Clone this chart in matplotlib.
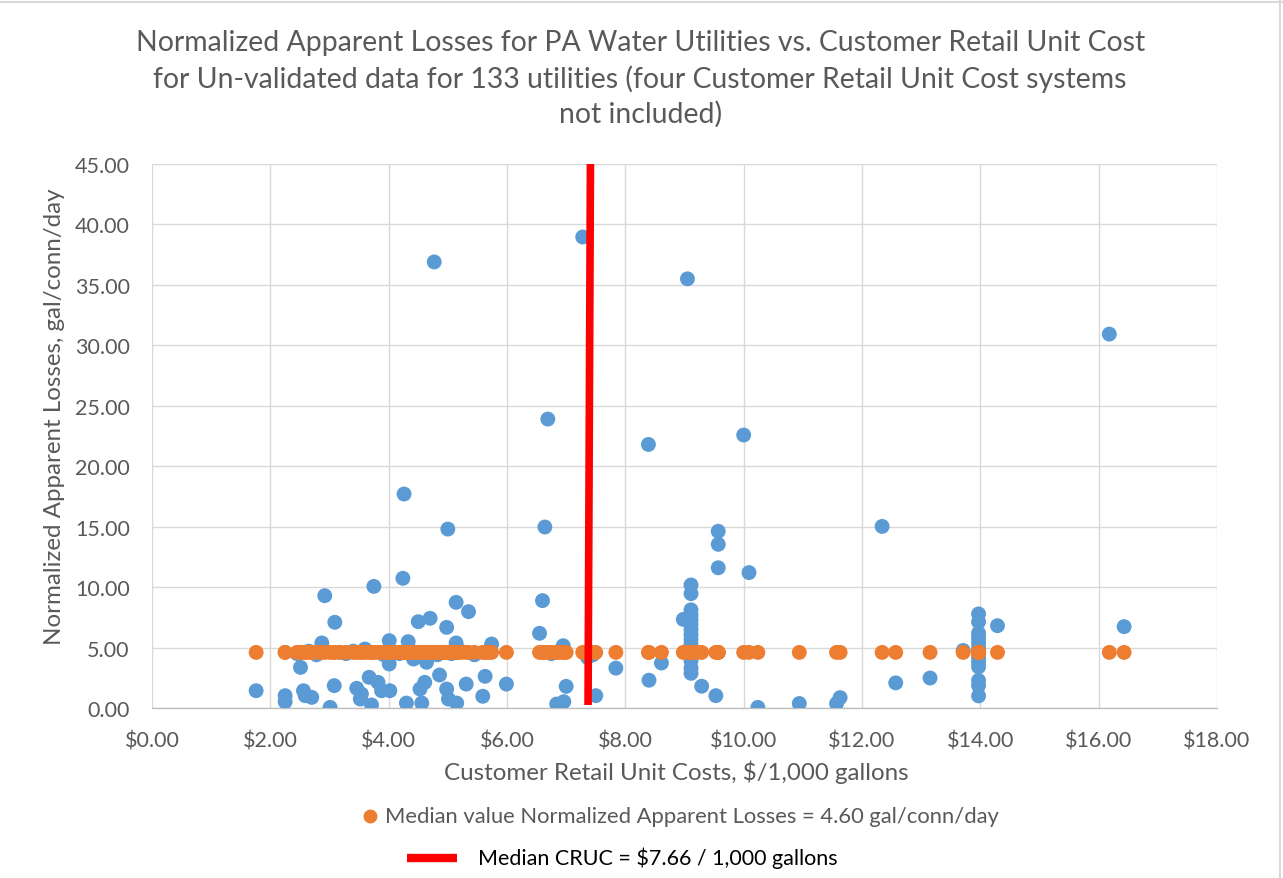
import matplotlib
matplotlib.use("Agg")
import matplotlib.pyplot as plt
from matplotlib.ticker import FuncFormatter, MultipleLocator
from matplotlib.lines import Line2D

plt.rcParams['font.family'] = ['Lato', 'DejaVu Sans']

# Customer retail unit cost ($/1,000 gal) and normalized apparent losses (gal/conn/day)
cruc = [1.76, 2.25, 2.25, 2.51, 2.56, 2.59, 2.70, 2.87, 2.92, 3.09,
        3.08, 3.01, 3.46, 3.54, 3.52, 3.60, 3.67, 3.71, 3.75, 3.82,
        3.88, 4.01, 4.01, 4.02, 4.24, 4.33, 4.30, 4.42, 4.50, 4.53,
        4.56, 4.64, 4.70, 4.61, 4.86, 4.98, 5.14, 5.35, 5.14, 4.98,
        5.01, 5.15, 5.31, 5.63, 5.59, 5.74, 5.99, 4.26, 5.00, 4.77,
        7.28, 6.69, 6.64, 6.60, 6.55, 6.95, 7.00, 6.96, 6.84, 7.36,
        7.50, 7.84, 8.40, 8.61, 8.98,
        9.11, 9.11, 9.11, 9.11, 9.11, 9.11, 9.11, 9.11, 9.11, 9.11,
        9.11, 9.11, 9.11, 9.11, 9.11,
        9.29, 9.53, 9.57, 9.57, 9.57, 10.09, 10.00, 9.05, 8.39, 10.24,
        10.94, 11.57, 11.63, 12.34, 12.57, 13.15, 13.71,
        13.97, 13.97, 13.97, 13.97, 13.97, 13.97, 13.97, 13.97, 13.97, 13.97,
        13.97, 13.97, 13.97,
        14.29, 16.18, 16.43,
        2.45, 2.65, 2.78, 3.18, 3.28, 3.40, 3.92, 4.10, 4.18, 4.38,
        4.82, 4.92, 5.06, 5.22, 5.45, 5.68, 6.75, 6.88, 7.45, 9.20]

losses = [1.43, 1.02, 0.52, 3.36, 1.43, 1.02, 0.88, 5.38, 9.29, 7.09,
          1.85, 0.05, 1.63, 1.16, 0.74, 4.88, 2.54, 0.25, 10.06, 2.12,
          1.43, 5.57, 3.64, 1.43, 10.73, 5.49, 0.41, 4.05, 7.14, 1.57,
          0.41, 3.78, 7.42, 2.12, 2.73, 6.67, 8.74, 7.97, 5.38, 1.57,
          0.74, 0.41, 1.98, 2.62, 0.97, 5.29, 1.98, 17.70, 14.80, 36.90,
          38.96, 23.90, 14.97, 8.88, 6.18, 5.15, 1.79, 0.52, 0.33, 4.19,
          1.02, 3.30, 2.30, 3.72, 7.33,
          10.18, 9.46, 8.12, 7.70, 7.30, 6.90, 6.50, 6.10, 5.70, 5.30,
          4.90, 4.30, 3.90, 3.30, 2.87,
          1.80, 1.02, 14.62, 13.54, 11.60, 11.20, 22.58, 35.50, 21.80, 0.05,
          0.37, 0.37, 0.86, 15.02, 2.08, 2.48, 4.76,
          7.78, 7.13, 6.20, 5.80, 5.40, 5.00, 4.60, 4.20, 3.80, 3.40,
          2.28, 1.85, 1.00,
          6.81, 30.93, 6.73,
          4.50, 4.70, 4.40, 4.60, 4.50, 4.70, 4.40, 4.60, 4.50, 4.70,
          4.40, 4.60, 4.50, 4.70, 4.40, 4.60, 4.50, 4.70, 4.40, 4.60]

median_losses = 4.60
median_cruc_label = 7.66
# hand-drawn red line as placed in the original chart
cruc_line_x = [7.37, 7.41]
cruc_line_y = [0.25, 45.0]

blue = '#5B9BD5'
orange = '#ED7D31'
grey = '#595959'

fig = plt.figure(figsize=(12.83, 8.79), dpi=100)
ax = fig.add_axes([152 / 1283, 1 - 709 / 879, (1217 - 152) / 1283, (709 - 165) / 879])

ax.scatter(cruc, losses, s=115, color=blue, edgecolors='none', zorder=3)
ax.scatter(cruc, [median_losses] * len(cruc), s=115, color=orange, edgecolors='none', zorder=4)
ax.plot(cruc_line_x, cruc_line_y, color='#FF0000', lw=5.5, solid_capstyle='butt', zorder=5)

ax.set_xlim(0, 18)
ax.set_ylim(0, 45)
ax.xaxis.set_major_locator(MultipleLocator(2))
ax.yaxis.set_major_locator(MultipleLocator(5))
ax.xaxis.set_major_formatter(FuncFormatter(lambda v, p: f'${v:.2f}'))
ax.yaxis.set_major_formatter(FuncFormatter(lambda v, p: f'{v:.2f}'))
ax.grid(True, color='#D9D9D9', lw=1.0, zorder=0)
ax.set_axisbelow(True)
for s in ['top', 'right', 'left']:
    ax.spines[s].set_visible(False)
ax.spines['bottom'].set_color('#BFBFBF')
ax.spines['bottom'].set_linewidth(1.0)
ax.tick_params(length=0, labelsize=15.5, labelcolor=grey)
ax.tick_params(axis='x', pad=16)
ax.tick_params(axis='y', pad=16)

fig.text(0.499, 1 - 79 / 879,
         'Normalized Apparent Losses for PA Water Utilities vs. Customer Retail Unit Cost\n'
         'for Un-validated data for 133 utilities (four Customer Retail Unit Cost systems\n'
         'not included)',
         ha='center', va='center', fontsize=20.4, color=grey, linespacing=1.38)
fig.text(0.527, 1 - 772 / 879, 'Customer Retail Unit Costs, $/1,000 gallons',
         ha='center', va='center', fontsize=17.4, color=grey)
fig.text(55 / 1283, 1 - 417 / 879, 'Normalized Apparent Losses, gal/conn/day',
         ha='center', va='center', rotation=90, fontsize=17.4, color=grey)

# legend entries
fig.add_artist(Line2D([370 / 1283], [1 - 817 / 879], marker='o', markersize=10,
                      color=orange, markeredgecolor='none', linestyle='none'))
fig.text(385 / 1283, 1 - 817 / 879,
         f'Median value Normalized Apparent Losses = {median_losses:.2f} gal/conn/day',
         ha='left', va='center', fontsize=15.8, color=grey)
fig.add_artist(Line2D([407 / 1283, 457 / 1283], [1 - 859 / 879] * 2, color='#FF0000', lw=6,
                      solid_capstyle='butt'))
fig.text(478 / 1283, 1 - 858 / 879,
         f'Median CRUC = ${median_cruc_label:.2f} / 1,000 gallons',
         ha='left', va='center', fontsize=15.5, color='black')

# chart frame edges
fig.add_artist(Line2D([0, 1], [1 - 3 / 879] * 2, color='#D9D9D9', lw=1.5))
fig.add_artist(Line2D([1280 / 1283] * 2, [0, 1], color='#D9D9D9', lw=1.5))

fig.savefig('out.png', dpi=100)
